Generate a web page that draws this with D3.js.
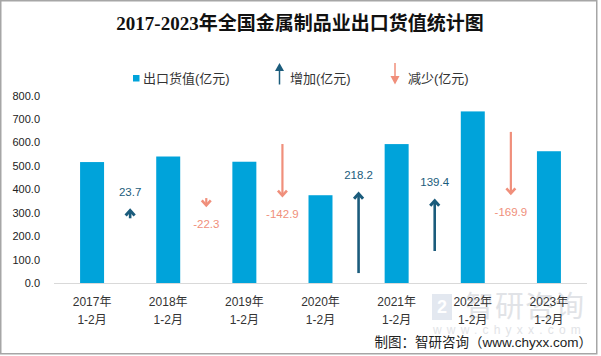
<!DOCTYPE html>
<html><head><meta charset="utf-8">
<script src="https://cdn.jsdelivr.net/npm/d3@7"></script>
<style>
html,body{margin:0;padding:0;background:#fff;}
svg{display:block;}
</style></head>
<body>
<svg id="c" width="601" height="356"></svg>
<script>
// ---- data ----
const years = ["2017年","2018年","2019年","2020年","2021年","2022年","2023年"];
const period = "1-2月";
const exportValue = [516.0, 539.7, 517.4, 374.5, 592.7, 732.1, 562.2];
const change = [23.7, -22.3, -142.9, 218.2, 139.4, -169.9];
// start of each change arrow on the (hidden) secondary axis
const arrowStart = [176, 231, 378, 27, 87, 411];
const yTicks = [0,100,200,300,400,500,600,700,800];
const title = "2017-2023年全国金属制品业出口货值统计图";
const legendLabels = ["出口货值(亿元)", "增加(亿元)", "减少(亿元)"];
const source = "制图：智研咨询（www.chyxx.com）";

const barColor = "#00A3DA", upColor = "#1B5C7C", downColor = "#F08F7B";
const cjk = "'Liberation Sans','Noto Sans CJK SC',sans-serif";
const fmt = v => d3.format(".1f")(v).replace("\u2212","-");

const svg = d3.select("#c");
// border
svg.append("rect").attr("x",0.75).attr("y",0.75).attr("width",596).attr("height",353)
  .attr("fill","#fff").attr("stroke","#a6a6a6").attr("stroke-width",1.5);

// watermark
const wm = svg.append("g").attr("opacity",0.5);
wm.append("rect").attr("x",432).attr("y",294).attr("width",20).attr("height",26).attr("fill","#c9d2e3");
wm.append("text").attr("x",437).attr("y",313).attr("font-size",18).attr("font-weight","bold")
  .attr("fill","#fff").attr("font-family",cjk).text("2");
wm.append("text").attr("x",465).attr("y",317).attr("font-size",29).attr("fill","#c5c9d0")
  .attr("font-family",cjk).attr("letter-spacing",1).text("智研咨询");
wm.append("text").attr("x",433).attr("y",334).attr("font-size",12).attr("fill","#c5c9d0")
  .attr("font-family",cjk).attr("letter-spacing",5.2).text("www.chyxx.com");

// title
svg.append("text").attr("x",300).attr("y",30).attr("text-anchor","middle")
  .attr("font-size",19).attr("font-weight","bold")
  .attr("font-family","'Liberation Serif','Noto Sans CJK SC',serif").attr("fill","#111").text(title);

// scales
const x = d3.scaleBand().domain(years).range([54,587]).paddingInner(0.685).paddingOuter(0.3425);
const y = d3.scaleLinear().domain([0,800]).range([283,95.5]);
const y2 = d3.scaleLinear().domain([0,510]).range([283,95.5]);

// y axis
const ya = svg.append("g").attr("transform","translate(44,0)")
  .call(d3.axisLeft(y).tickValues(yTicks).tickFormat(d3.format(".1f")).tickSize(0).tickPadding(4));
ya.select(".domain").remove();
ya.selectAll("text").attr("font-size",11).attr("font-family","'Liberation Sans',sans-serif").attr("fill","#222");

// x axis baseline
svg.append("line").attr("x1",54).attr("x2",587).attr("y1",y(0)+0.5).attr("y2",y(0)+0.5)
  .attr("stroke","#d9d9d9").attr("stroke-width",1);

// bars
svg.selectAll("rect.bar").data(exportValue).join("rect").attr("class","bar")
  .attr("x",(d,i)=>x(years[i])).attr("width",x.bandwidth())
  .attr("y",d=>y(d)).attr("height",d=>y(0)-y(d)).attr("fill",barColor);

// x labels
const xl = svg.append("g");
years.forEach((yr,i)=>{
  const cx = x(yr)+x.bandwidth()/2;
  const t = xl.append("text").attr("text-anchor","middle").attr("font-size",12)
    .attr("font-family",cjk).attr("fill","#333");
  t.append("tspan").attr("x",cx).attr("y",306).text(yr);
  t.append("tspan").attr("x",cx).attr("y",324).text(period);
});

// change arrows
change.forEach((v,i)=>{
  const cx = (x(years[i])+x(years[i+1])+x.bandwidth())/2;
  const s = y2(arrowStart[i]), e = y2(arrowStart[i]+v);
  const up = v>0, col = up?upColor:downColor, sw = up?2.6:2.2;
  const dir = up?1:-1;
  const g = svg.append("g");
  g.append("line").attr("x1",cx).attr("x2",cx).attr("y1",s).attr("y2",e+dir*1)
    .attr("stroke",col).attr("stroke-width",sw);
  g.append("path").attr("d",`M${cx-4.5},${e+dir*6}L${cx},${e+dir*1}L${cx+4.5},${e+dir*6}`)
    .attr("fill","none").attr("stroke",col).attr("stroke-width",sw+0.4).attr("stroke-linejoin","miter");
  g.append("text").attr("x",cx).attr("y",up? e-13.5 : e+21.5).attr("text-anchor","middle")
    .attr("font-size",11.5).attr("font-family","'Liberation Sans',sans-serif").attr("fill",col)
    .text(fmt(v));
});

// legend
const lg = svg.append("g").attr("font-size",13).attr("font-family",cjk).attr("fill","#333");
lg.append("rect").attr("x",133).attr("y",75).attr("width",6.5).attr("height",6.5).attr("fill",barColor);
lg.append("text").attr("x",143).attr("y",83).text(legendLabels[0]);
lg.append("line").attr("x1",279.5).attr("x2",279.5).attr("y1",68).attr("y2",84.5).attr("stroke",upColor).attr("stroke-width",1.5);
lg.append("path").attr("d","M275,71L279.5,63L284,71Z").attr("fill",upColor);
lg.append("text").attr("x",290).attr("y",83).text(legendLabels[1]);
lg.append("line").attr("x1",395).attr("x2",395).attr("y1",63).attr("y2",79).attr("stroke",downColor).attr("stroke-width",1.5);
lg.append("path").attr("d","M390.5,76L395,84.5L399.5,76Z").attr("fill",downColor);
lg.append("text").attr("x",408).attr("y",83).text(legendLabels[2]);

// source
svg.append("text").attr("x",592).attr("y",347).attr("text-anchor","end")
  .attr("font-size",13.5).attr("font-family",cjk).attr("fill","#222").text(source);
</script>
</body></html>
